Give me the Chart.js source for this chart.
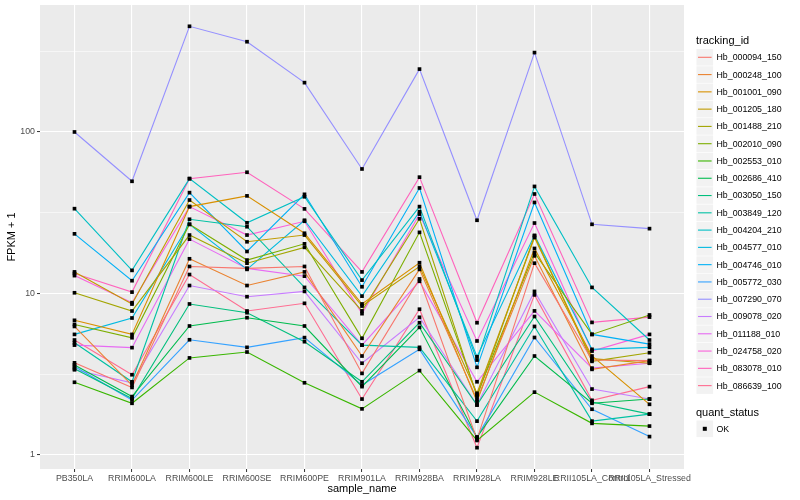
<!DOCTYPE html>
<html><head><meta charset="utf-8">
<script src="https://cdn.jsdelivr.net/npm/chart.js@4/dist/chart.umd.min.js"></script>
<style>html,body{margin:0;padding:0;background:#fff}#wrap{width:800px;height:500px;position:relative}</style>
</head><body><div id="wrap"><canvas id="c"></canvas></div>
<script>
const categories = ["PB350LA","RRIM600LA","RRIM600LE","RRIM600SE","RRIM600PE","RRIM901LA","RRIM928BA","RRIM928LA","RRIM928LE","RRII105LA_Control","RRII105LA_Stressed"];
const trackingIds = ["Hb_000094_150","Hb_000248_100","Hb_001001_090","Hb_001205_180","Hb_001488_210","Hb_002010_090","Hb_002553_010","Hb_002686_410","Hb_003050_150","Hb_003849_120","Hb_004204_210","Hb_004577_010","Hb_004746_010","Hb_005772_030","Hb_007290_070","Hb_009078_020","Hb_011188_010","Hb_024758_020","Hb_083078_010","Hb_086639_100"];
const seriesColors = ["#F8766D","#EA8331","#D89000","#C09B00","#A3A500","#7CAE00","#39B600","#00BB4E","#00BF7D","#00C1A3","#00BFC4","#00BAE0","#00B0F6","#35A2FF","#9590FF","#C77CFF","#E76BF3","#FA62DB","#FF62BC","#FF6C91"];

const hb000094_150 = [3.72, 2.62, 14.7, 14.3, 14.7, 3.20, 12.3, 1.25, 15.4, 3.87, 3.84];
const hb000248_100 = [6.25, 2.70, 16.4, 11.2, 13.6, 4.10, 14.1, 2.20, 17.1, 3.39, 3.84];
const hb001001_090 = [6.82, 5.58, 34.5, 40.2, 23.6, 8.61, 15.5, 2.14, 19.0, 4.10, 2.06];
const hb001205_180 = [13.6, 8.6, 37.9, 20.9, 23.0, 8.36, 14.7, 2.41, 22.2, 3.95, 3.70];
const hb001488_210 = [10.1, 7.79, 23.0, 15.4, 19.3, 7.8, 29.0, 2.30, 22.7, 3.80, 4.30];
const hb002010_090 = [6.43, 5.32, 26.8, 16.1, 20.3, 5.28, 23.9, 2.35, 17.9, 5.58, 7.36];
const hb002553_010 = [2.82, 2.09, 3.99, 4.34, 2.80, 1.93, 3.33, 1.23, 2.45, 1.57, 1.51];
const hb002686_410 = [3.61, 2.30, 6.29, 7.08, 6.29, 2.65, 6.17, 1.29, 4.10, 2.09, 2.22];
const hb003050_150 = [3.42, 2.24, 8.61, 7.60, 5.03, 2.84, 6.59, 2.04, 7.20, 2.13, 1.79];
const hb003849_120 = [4.95, 2.84, 28.8, 25.9, 10.9, 4.79, 4.64, 1.62, 6.25, 1.62, 1.79];
const hb004204_210 = [33.5, 13.9, 51.4, 27.4, 39.7, 12.1, 34.5, 3.87, 46.0, 10.9, 5.15];
const hb004577_010 = [5.58, 7.05, 26.8, 14.1, 28.4, 9.63, 32.1, 4.06, 22.9, 4.51, 4.64];
const hb004746_010 = [23.4, 12.0, 42.1, 18.2, 41.1, 11.0, 45.0, 3.49, 36.6, 5.58, 4.86];
const hb005772_030 = [3.53, 2.19, 5.17, 4.64, 5.33, 2.71, 4.51, 1.29, 5.34, 1.92, 1.30];
const hb007290_070 = [100, 49.5, 451, 362, 202, 59, 245, 28.4, 310, 26.8, 25.2];
const hb009078_020 = [3.37, 2.80, 11.2, 9.55, 10.3, 3.70, 7.12, 2.04, 10.3, 2.56, 2.22];
const hb011188_010 = [4.79, 4.62, 21.7, 14.3, 12.8, 4.79, 11.9, 2.84, 7.80, 3.45, 3.70];
const hb024758_020 = [12.9, 8.77, 34.5, 23.0, 28.0, 7.50, 31.0, 5.08, 27.3, 4.40, 5.58];
const hb083078_010 = [13.3, 10.2, 51.4, 56.3, 33.4, 13.6, 52.5, 6.59, 41.3, 6.62, 7.14];
const hb086639_100 = [5.15, 3.14, 13.1, 7.79, 8.69, 2.22, 7.99, 1.11, 9.80, 2.18, 2.65];

const yMajorTicks = [1, 10, 100];
const yMinorTicks = [3.1623, 31.623, 316.23];
const quantStatus = ["OK"];

const seriesValues = [hb000094_150,hb000248_100,hb001001_090,hb001205_180,hb001488_210,hb002010_090,hb002553_010,hb002686_410,hb003050_150,hb003849_120,hb004204_210,hb004577_010,hb004746_010,hb005772_030,hb007290_070,hb009078_020,hb011188_010,hb024758_020,hb083078_010,hb086639_100];

const FONT = "'Liberation Sans', Arial, Helvetica, sans-serif";

const lineDatasets = seriesValues.map((vals, i) => ({
  type: 'line', label: trackingIds[i],
  data: vals.map((v, j) => ({x: j, y: v})),
  borderColor: seriesColors[i], backgroundColor: seriesColors[i],
  borderWidth: 1.1, pointRadius: 0, fill: false, tension: 0, order: 1
}));
const pointDataset = {
  type: 'scatter', label: quantStatus[0],
  data: seriesValues.flatMap(vals => vals.map((v, j) => ({x: j, y: v}))),
  pointStyle: 'rect', pointRadius: 2.6, backgroundColor: '#000', borderColor: '#000',
  borderWidth: 0, showLine: false, order: 0
};

const panelBg = {
  id: 'panelBg',
  beforeDraw(chart) {
    const {ctx, chartArea: a} = chart;
    ctx.save();
    ctx.fillStyle = '#fff'; ctx.fillRect(0, 0, chart.width, chart.height);
    ctx.fillStyle = '#EBEBEB'; ctx.fillRect(a.left, a.top, a.right - a.left, a.bottom - a.top);
    ctx.restore();
  }
};

const ggLegend = {
  id: 'ggLegend',
  afterDraw(chart) {
    const ctx = chart.ctx;
    const x0 = 696.5, keyW = 16.6, step = 17.28, top = 49;
    ctx.save();
    ctx.textBaseline = 'middle';
    ctx.fillStyle = '#000';
    ctx.font = `11px ${FONT}`;
    ctx.fillText('tracking_id', x0 - 0.5, 40.5);
    ctx.font = `8.8px ${FONT}`;
    trackingIds.forEach((name, i) => {
      const y = top + i * step;
      ctx.fillStyle = '#F2F2F2';
      ctx.fillRect(x0, y, keyW, keyW);
      ctx.strokeStyle = seriesColors[i];
      ctx.lineWidth = 1.1;
      ctx.beginPath();
      ctx.moveTo(x0 + 1.5, y + keyW / 2);
      ctx.lineTo(x0 + keyW - 1.5, y + keyW / 2);
      ctx.stroke();
      ctx.fillStyle = '#000';
      ctx.fillText(name, 716.5, y + keyW / 2 + 0.5);
    });
    ctx.font = `11px ${FONT}`;
    ctx.fillText('quant_status', x0 - 0.5, 412.5);
    const ky = 420.5;
    ctx.fillStyle = '#F2F2F2';
    ctx.fillRect(x0, ky, keyW, keyW);
    ctx.fillStyle = '#000';
    ctx.fillRect(x0 + keyW / 2 - 2, ky + keyW / 2 - 2, 4, 4);
    ctx.font = `8.8px ${FONT}`;
    ctx.fillText(quantStatus[0], 716.5, ky + keyW / 2 + 0.5);
    ctx.restore();
  }
};

new Chart(document.getElementById('c'), {
  type: 'line',
  data: { datasets: [pointDataset, ...lineDatasets] },
  options: {
    responsive: true, maintainAspectRatio: false, animation: false,
    devicePixelRatio: 1,
    layout: { padding: { left: 0, top: 5, right: 116, bottom: 0 } },
    plugins: { legend: { display: false }, tooltip: { enabled: false } },
    scales: {
      x: {
        type: 'linear', min: -0.6, max: 10.6,
        afterBuildTicks: s => { s.ticks = categories.map((_, i) => ({ value: i })); },
        afterFit: s => { s.height = 31; s.paddingLeft = 0; s.paddingRight = 0; },
        ticks: {
          callback: v => categories[v], autoSkip: false, maxRotation: 0, minRotation: 0,
          color: '#4D4D4D', font: { family: FONT, size: 8.8 }, padding: 1
        },
        grid: { color: '#FFFFFF', lineWidth: 1.1, tickLength: 3, tickColor: '#333333', tickWidth: 1 },
        border: { display: false },
        title: { display: true, text: 'sample_name', color: '#000', font: { family: FONT, size: 11 }, padding: { top: 2, bottom: 4 } }
      },
      y: {
        type: 'logarithmic', min: 0.819, max: 611,
        afterBuildTicks: s => {
          const all = [...yMajorTicks, ...yMinorTicks].sort((a, b) => a - b);
          s.ticks = all.map(v => ({ value: v, major: yMajorTicks.includes(v) }));
        },
        afterFit: s => { s.width = 40; s.paddingTop = 0; s.paddingBottom = 0; },
        ticks: {
          callback: v => yMajorTicks.includes(v) ? String(v) : '',
          autoSkip: false, color: '#4D4D4D', font: { family: FONT, size: 8.8 }, padding: 2
        },
        grid: {
          color: '#FFFFFF',
          lineWidth: c => (c.tick && yMajorTicks.includes(c.tick.value)) ? 1.1 : 0.55,
          tickLength: 3,
          tickColor: c => (c.tick && yMajorTicks.includes(c.tick.value)) ? '#333333' : 'rgba(0,0,0,0)',
          tickWidth: 1
        },
        border: { display: false },
        title: { display: true, text: 'FPKM + 1', color: '#000', font: { family: FONT, size: 11 }, padding: { top: 5, bottom: 2 } }
      }
    }
  },
  plugins: [panelBg, ggLegend]
});
</script></body></html>
